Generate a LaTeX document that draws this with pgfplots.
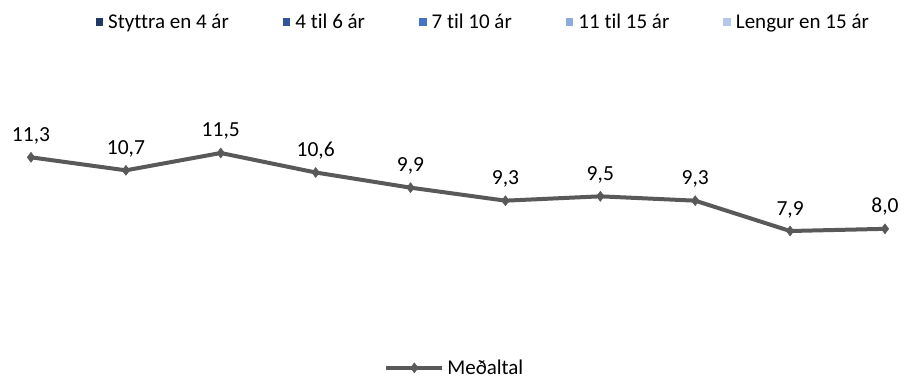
\documentclass[border=0pt]{standalone}
\usepackage{fontspec}
\setmainfont{Carlito}[Ligatures={NoCommon}]
\usepackage{pgfplots}
\pgfplotsset{compat=1.18}
\definecolor{lc}{HTML}{595959}
\definecolor{c1}{HTML}{203864}
\definecolor{c2}{HTML}{2F5597}
\definecolor{c3}{HTML}{4472C4}
\definecolor{c4}{HTML}{8FAADC}
\definecolor{c5}{HTML}{B4C7E7}
\begin{document}
\begin{tikzpicture}
\useasboundingbox (0,0) rectangle (918bp,380bp);
\begin{axis}[
  at={(0,0)}, anchor=south west,
  scale only axis, width=918bp, height=380bp,
  hide axis, clip=false,
  xmin=-0.3267, xmax=9.348, ymin=1.025, ymax=18.56,
  legend style={at={(rel axis cs:0.496,0.032)}, anchor=center, draw=none, fill=none,
    font=\fontsize{21bp}{25bp}\selectfont, nodes={inner xsep=3bp}},
  legend image code/.code={\draw[mark repeat=2,mark phase=2,#1] plot coordinates {(0bp,0bp) (28bp,0bp) (56bp,0bp)};},
]
\addplot[color=lc, line width=4bp, mark=diamond*, mark size=5bp, mark options={line width=0.5bp},
  nodes near coords={\pgfmathprintnumber[assume math mode=true,use comma,fixed,fixed zerofill,precision=1]{\pgfplotspointmeta}},
  point meta=y,
  every node near coord/.append style={anchor=base, yshift=16bp, color=black, font=\fontsize{21.5bp}{25bp}\selectfont}]
  coordinates {(0,11.3) (1,10.7) (2,11.5) (3,10.6) (4,9.9) (5,9.3) (6,9.5) (7,9.3) (8,7.9) (9,8.0)};
\addlegendentry{Meðaltal}
\end{axis}
\begin{axis}[
  at={(0,0)}, anchor=south west,
  scale only axis, width=918bp, height=380bp,
  hide axis, clip=false,
  xmin=0, xmax=1, ymin=0, ymax=1,
  legend columns=5,
  legend style={at={(rel axis cs:0.528,0.942)}, anchor=center, draw=none, fill=none,
    font=\fontsize{21bp}{25bp}\selectfont, nodes={inner xsep=5bp},
    /tikz/every even column/.append style={column sep=49bp}},
  legend image code/.code={\fill[#1] (0bp,-3.8bp) rectangle (7.6bp,3.8bp);},
]
\addlegendimage{fill=c1, draw=none}
\addlegendentry{Styttra en 4 ár}
\addlegendimage{fill=c2, draw=none}
\addlegendentry{4 til 6 ár}
\addlegendimage{fill=c3, draw=none}
\addlegendentry{7 til 10 ár}
\addlegendimage{fill=c4, draw=none}
\addlegendentry{11 til 15 ár}
\addlegendimage{fill=c5, draw=none}
\addlegendentry{Lengur en 15 ár}
\end{axis}
\end{tikzpicture}
\end{document}
